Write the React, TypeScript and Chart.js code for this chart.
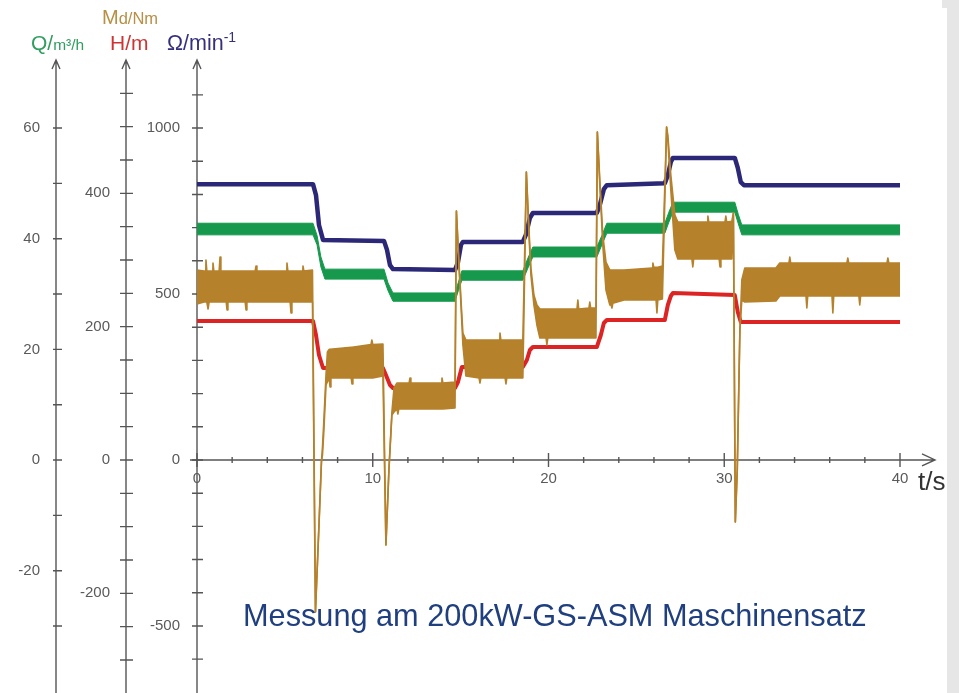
import { useEffect, useRef } from "react";
import { Chart, registerables } from "chart.js";

Chart.register(...registerables);

// ---- measured series (time in s) ----
// Drehmoment Md / Nm: upper and lower edge of the noisy trace
const TORQUE_T = [
  0, 0.4, 0.46, 0.51, 0.56, 0.63, 0.69, 0.86, 0.91, 0.96, 1.26, 1.31, 1.36, 1.66, 1.71, 1.76, 2.74, 2.79, 2.84, 3.31, 3.36, 3.41, 5.07, 5.12, 5.17, 5.3, 5.35, 5.4, 5.98, 6.03, 6.08, 6.57,
  6.74, 6.94, 7.08, 7.14, 7.22, 7.34,
  7.42, 7.52, 7.57, 7.62, 8.77, 8.82, 8.87, 9.9, 9.95, 10.0, 10.58,
  10.75, 10.92, 11.09,
  11.21, 11.38, 11.43, 11.48, 12.07, 12.12, 12.17, 13.89, 13.94, 13.99, 14.68,
  14.76, 14.9, 15.02, 15.13, 15.3,
  16.05, 16.1, 16.15, 17.19, 17.24, 17.29, 17.53, 17.58, 17.63, 18.54,
  18.74, 18.89, 19.0, 19.17, 19.34,
  19.51, 19.86, 19.91, 19.96, 21.62, 21.67, 21.72, 22.3, 22.35, 22.4, 22.7,
  22.78, 22.92, 23.09, 23.27,
  23.49, 23.56, 23.61, 23.66, 24.3, 25.89, 25.94, 25.99, 26.12, 26.17, 26.22, 26.48,
  26.72, 26.79, 26.96, 27.19,
  27.36, 28.16, 28.21, 28.26, 29.02, 29.07, 29.12, 29.71, 29.76, 29.81, 30.04, 30.09, 30.14, 30.43,
  30.52, 30.63, 30.74, 30.89, 31.0,
  31.17, 32.94, 33.16, 33.68, 33.73, 33.78, 34.65, 34.7, 34.75, 36.13, 36.18, 36.23, 36.98, 37.03, 37.08, 37.66, 37.71, 37.76, 39.26, 39.31, 39.36, 40,
];
const TORQUE_HI = [
  285, 283.5, 283.5, 300, 283.5, 283.5, 283.5, 283.5, 295.5, 283.5, 283.5, 304.5, 283.5, 283.5, 283.5, 283.5, 283.5, 283.5, 283.5, 283.5, 291, 283.5, 283.5, 295.5, 283.5, 283.5, 283.5, 283.5, 283.5, 291, 283.5, 285,
  -228, -97.5, -3, 19.5, 60, 127.5,
  162, 166, 166, 166, 169, 169, 169, 173, 180, 173, 174,
  -127.5, -15, 72,
  108, 115.5, 115.5, 115.5, 115.5, 123, 115.5, 115.5, 123, 115.5, 117,
  373.5, 300, 240, 190.5, 180,
  180, 180, 180, 180, 190.5, 180, 180, 180, 180, 180,
  432, 345, 288, 247.5, 232.5,
  226.5, 226.5, 226.5, 226.5, 226.5, 240, 226.5, 228, 237, 228, 228,
  492, 420, 337.5, 297,
  285, 285, 285, 285, 285, 288, 295.5, 289, 289, 289, 289, 291,
  499.5, 487.5, 427.5, 367.5,
  357, 357, 357, 357, 357, 366, 357, 357, 357, 357, 357, 366, 357, 358,
  370.5, -93, -15, 195, 270,
  288, 288, 295.5, 295.5, 304.5, 295.5, 295.5, 295.5, 295.5, 295.5, 295.5, 295.5, 295.5, 303, 295.5, 295.5, 295.5, 295.5, 295.5, 303, 295.5, 295.5,
];
const TORQUE_LO = [
  234, 237, 237, 237, 237, 226.5, 237, 237, 237, 237, 237, 237, 237, 237, 225, 237, 237, 225, 237, 237, 237, 237, 237, 237, 237, 237, 220.5, 237, 237, 237, 237, 237,
  -228, -97.5, -3, 7.5, 45, 112.5,
  117, 123, 109.5, 123, 123, 114, 123, 123, 123, 123, 126,
  -127.5, -15, 67.5,
  72, 76.5, 69, 76.5, 76.5, 76.5, 76.5, 76.5, 76.5, 76.5, 78,
  373.5, 292.5, 232.5, 172.5, 126,
  123, 115.5, 123, 123, 123, 123, 123, 114, 123, 123,
  432, 337.5, 277.5, 232.5, 202.5,
  183, 183, 172.5, 183, 183, 183, 183, 183, 183, 183, 183,
  492, 412.5, 322.5, 255,
  232.5, 232.5, 228, 235, 240, 240, 240, 240, 240, 220.5, 240, 241.5,
  499.5, 480, 405, 315,
  301.5, 301.5, 289.5, 301.5, 301.5, 301.5, 301.5, 301.5, 289.5, 301.5, 301.5, 301.5, 301.5, 301.5,
  370.5, -93, -15, 195, 240,
  237, 238.5, 246, 246, 246, 246, 246, 228, 246, 246, 220.5, 246, 246, 246, 246, 246, 232.5, 246, 246, 246, 246, 246,
];

// Durchfluss Q / m³/h: upper and lower edge
const FLOW_T = [0, 6.6, 6.83, 7.05, 7.28, 10.64, 10.87, 11.15, 14.68, 14.87, 15.07, 18.54, 18.83, 19.11, 22.75, 23.04, 23.32, 26.62, 26.85, 27.08, 30.6, 30.8, 31.0, 40];
const FLOW_HI = [42.8, 42.8, 40.6, 36.7, 34.5, 34.5, 32.0, 30.2, 30.2, 32.1, 34.2, 34.2, 36.5, 38.5, 38.5, 40.6, 42.8, 42.8, 44.8, 46.6, 46.6, 44.4, 42.5, 42.5];
const FLOW_LO = [40.7, 40.7, 38.9, 34.9, 32.7, 32.7, 30.6, 28.7, 28.7, 30.6, 32.5, 32.5, 34.7, 36.7, 36.7, 38.9, 41.0, 41.0, 43.0, 44.8, 44.8, 42.7, 40.7, 40.7];

// Förderhöhe H / m
const HEAD_T = [0, 6.6, 6.77, 6.94, 7.17, 10.58, 10.75, 10.98, 11.15, 14.68, 14.85, 15.07, 18.54, 18.77, 18.94, 19.11, 22.75, 22.98, 23.15, 23.32, 26.62, 26.79, 26.96, 27.08, 30.6, 30.77, 30.94, 40];
const HEAD = [208.5, 208.5, 187.5, 157.5, 138, 138, 127.5, 112.5, 108, 108, 117, 139.5, 139.5, 150, 165, 169.5, 169.5, 187.5, 205.5, 210, 210, 232.5, 246, 250.5, 247.5, 222, 207, 207];

// Drehzahl Ω / min⁻¹
const SPEED_T = [0, 6.6, 6.77, 6.94, 7.17, 10.64, 10.81, 10.98, 11.15, 14.68, 14.85, 15.02, 15.13, 18.54, 18.71, 18.94, 19.11, 22.75, 22.92, 23.15, 23.32, 26.62, 26.79, 26.96, 27.08, 30.6, 30.77, 30.94, 31.12, 40];
const SPEED = [831, 831, 798, 708, 663, 660, 633, 587, 575, 572, 596, 648, 657, 657, 678, 729, 744, 744, 768, 816, 828, 834, 858, 898, 910, 910, 880, 837, 828, 828];

// ---- axis ticks ----
const X_MINOR = [0, 2, 4, 6, 8, 10, 12, 14, 16, 18, 20, 22, 24, 26, 28, 30, 32, 34, 36, 38, 40];
const X_LABELS = [0, 10, 20, 30, 40];
const Q_TICKS = [-30, -20, -10, 0, 10, 20, 30, 40, 50, 60];
const Q_LABELS = [60, 40, 20, 0, -20];
const M_TICKS = [-300, -250, -200, -150, -100, -50, 0, 50, 100, 150, 200, 250, 300, 350, 400, 450, 500, 550];
const M_LABELS = [400, 200, 0, -200];
const W_TICKS = [-600, -500, -400, -300, -200, -100, 0, 100, 200, 300, 400, 500, 600, 700, 800, 900, 1000, 1100];
const W_LABELS = [1000, 500, 0, -500];

const COL_TORQUE = "#b5812b";
const COL_FLOW = "#17994d";
const COL_HEAD = "#dc2424";
const COL_SPEED = "#2c2878";

const AXIS_COL = "#555555";
const TICK_FONT = '15px "Liberation Sans", Arial, sans-serif';
const Q_AXIS_X = 56;
const M_AXIS_X = 126;

const pts = (t: number[], v: number[]) => t.map((x, i) => ({ x, y: v[i] }));

function drawRich(ctx: CanvasRenderingContext2D, x: number, y: number, parts: [string, number, number][], color: string) {
  ctx.fillStyle = color;
  ctx.textAlign = "left";
  ctx.textBaseline = "alphabetic";
  let cx = x;
  for (const [text, size, dy] of parts) {
    ctx.font = `${size}px "Liberation Sans", Arial, sans-serif`;
    ctx.fillText(text, cx, y + dy);
    cx += ctx.measureText(text).width;
  }
}

const axesPlugin = {
  id: "pumpAxes",
  beforeDatasetsDraw(chart: any) {
    const { ctx, scales, chartArea } = chart;
    const xs = scales.x;
    const top = chartArea.top;
    const bottom = chart.height;
    const zeroY = scales.yW.getPixelForValue(0);
    const wX = xs.getPixelForValue(0);

    ctx.save();
    ctx.strokeStyle = AXIS_COL;
    ctx.lineWidth = 1.4;

    const vAxis = (ax: number, scale: any, ticks: number[], l: number, r: number) => {
      ctx.beginPath();
      ctx.moveTo(ax, top);
      ctx.lineTo(ax, bottom);
      ctx.moveTo(ax - 4, top + 9);
      ctx.lineTo(ax, top);
      ctx.lineTo(ax + 4, top + 9);
      for (const v of ticks) {
        const py = scale.getPixelForValue(v);
        ctx.moveTo(ax - l, py);
        ctx.lineTo(ax + r, py);
      }
      ctx.stroke();
    };
    vAxis(Q_AXIS_X, scales.yQ, Q_TICKS, 3, 6);
    vAxis(M_AXIS_X, scales.yM, M_TICKS, 6, 7);
    vAxis(wX, scales.yW, W_TICKS, 5, 6);

    // time axis
    const xEnd = xs.getPixelForValue(40) + 35;
    ctx.beginPath();
    ctx.moveTo(wX - 7, zeroY);
    ctx.lineTo(xEnd, zeroY);
    ctx.moveTo(xEnd - 13, zeroY - 6);
    ctx.lineTo(xEnd, zeroY);
    ctx.lineTo(xEnd - 13, zeroY + 6);
    for (const v of X_MINOR) {
      const px = xs.getPixelForValue(v);
      const h = X_LABELS.includes(v) ? 7 : 3;
      ctx.moveTo(px, zeroY - h);
      ctx.lineTo(px, zeroY + h);
    }
    ctx.stroke();

    ctx.fillStyle = "#5a5a5a";
    ctx.font = TICK_FONT;
    ctx.textBaseline = "middle";
    ctx.textAlign = "right";
    for (const v of Q_LABELS) ctx.fillText(String(v), Q_AXIS_X - 16, scales.yQ.getPixelForValue(v));
    for (const v of M_LABELS) ctx.fillText(String(v), M_AXIS_X - 16, scales.yM.getPixelForValue(v));
    for (const v of W_LABELS) ctx.fillText(String(v), wX - 17, scales.yW.getPixelForValue(v));
    ctx.textAlign = "center";
    for (const v of X_LABELS) ctx.fillText(String(v), xs.getPixelForValue(v), zeroY + 19);
    ctx.restore();
  },
  afterDraw(chart: any) {
    const { ctx, scales } = chart;
    const zeroY = scales.yW.getPixelForValue(0);
    ctx.save();
    // axis headings
    drawRich(ctx, 31, 50, [["Q/", 21, 0], ["m³/h", 15.5, 0]], "#2f9e5f");
    drawRich(ctx, 102, 24, [["M", 20, 0], ["d/Nm", 16.5, 0]], "#b88f45");
    drawRich(ctx, 110, 50, [["H/m", 21, 0]], "#cf3434");
    drawRich(ctx, 167, 50, [["Ω/min", 21.5, 0], ["-1", 14, -8]], "#34307e");
    // time unit
    drawRich(ctx, 918, zeroY + 30, [["t/s", 26, 0]], "#333333");
    // caption
    drawRich(ctx, 243, 626, [["Messung am 200kW-GS-ASM Maschinensatz", 30.7, 0]], "#1f3f7f");
    // page strip at the right
    ctx.fillStyle = "#e6e6e6";
    ctx.fillRect(942, 0, 17, 8);
    ctx.fillRect(947, 8, 12, chart.height - 8);
    ctx.restore();
  },
};

export default function App() {
  const ref = useRef<HTMLCanvasElement | null>(null);

  useEffect(() => {
    if (!ref.current) return;
    const chart = new Chart(ref.current, {
      type: "line",
      data: {
        datasets: [
          { label: "Md hi", data: pts(TORQUE_T, TORQUE_HI), yAxisID: "yM", borderColor: COL_TORQUE, borderWidth: 1.6, fill: false, order: 0 },
          { label: "Md lo", data: pts(TORQUE_T, TORQUE_LO), yAxisID: "yM", borderColor: COL_TORQUE, backgroundColor: COL_TORQUE, borderWidth: 1.6, fill: "-1", order: 0 },
          { label: "Q hi", data: pts(FLOW_T, FLOW_HI), yAxisID: "yQ", borderColor: COL_FLOW, borderWidth: 1, fill: false, order: 2 },
          { label: "Q lo", data: pts(FLOW_T, FLOW_LO), yAxisID: "yQ", borderColor: COL_FLOW, backgroundColor: COL_FLOW, borderWidth: 1, fill: "-1", order: 2 },
          { label: "H", data: pts(HEAD_T, HEAD), yAxisID: "yM", borderColor: COL_HEAD, borderWidth: 4, fill: false, order: 1 },
          { label: "Ω", data: pts(SPEED_T, SPEED), yAxisID: "yW", borderColor: COL_SPEED, borderWidth: 4.5, fill: false, order: 3 },
        ],
      },
      options: {
        responsive: false,
        animation: false,
        events: [],
        layout: { padding: { left: 197, right: 59, top: 60, bottom: 0 } },
        elements: { point: { radius: 0 }, line: { tension: 0, borderJoinStyle: "round" } },
        plugins: { legend: { display: false }, tooltip: { enabled: false } },
        scales: {
          x: { type: "linear", min: 0, max: 40, display: false },
          yQ: { type: "linear", min: -42.1, max: 72.3, display: false },
          yM: { type: "linear", min: -349.5, max: 600, display: false },
          yW: { type: "linear", min: -702, max: 1205, display: false },
        },
      },
      plugins: [axesPlugin],
    });
    return () => chart.destroy();
  }, []);

  return (
    <div style={{ position: "absolute", left: 0, top: 0, width: 959, height: 693, background: "#ffffff" }}>
      <canvas ref={ref} width={959} height={693} style={{ display: "block" }} />
    </div>
  );
}
